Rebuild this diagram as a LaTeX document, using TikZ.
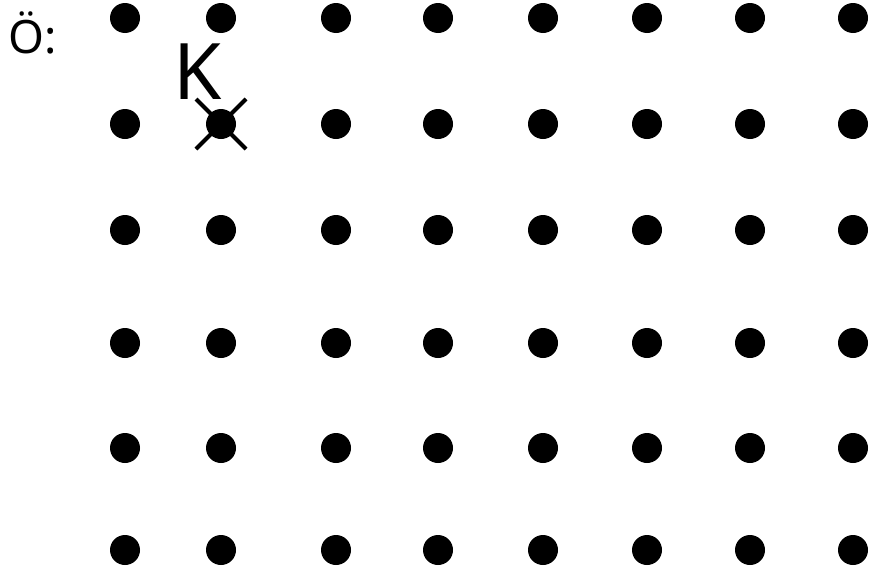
\documentclass[tikz,border=0pt]{standalone}
\usepackage{fontspec}
\setmainfont{Noto Sans}
\usetikzlibrary{positioning,calc}

\begin{document}
\begin{tikzpicture}[x=1pt,y=-1pt,
    dot/.style={circle, fill=black, inner sep=0pt, minimum size=30pt}]
    \useasboundingbox (0,0) rectangle (872,573);

    % Grid of dots
    \foreach \x [count=\i] in {125,221,336,438,543,647,750,853} {
        \foreach \y [count=\j] in {18,124,230,343,448,550} {
            \node[dot] (d\i\j) at (\x,\y) {};
        }
    }

    % Labels
    \node[font=\fontsize{46}{46}\selectfont, anchor=west, inner sep=0pt] (oe) at (8,33) {Ö:};
    \node[font=\fontsize{78}{78}\selectfont] (k) at (198,72) {K};

    % Cross on the marked dot
    \draw[line width=4pt] ($(d22)+(-25,-25)$) -- ($(d22)+(25,25)$);
    \draw[line width=4pt] ($(d22)+(25,-25)$) -- ($(d22)+(-25,25)$);
\end{tikzpicture}
\end{document}
